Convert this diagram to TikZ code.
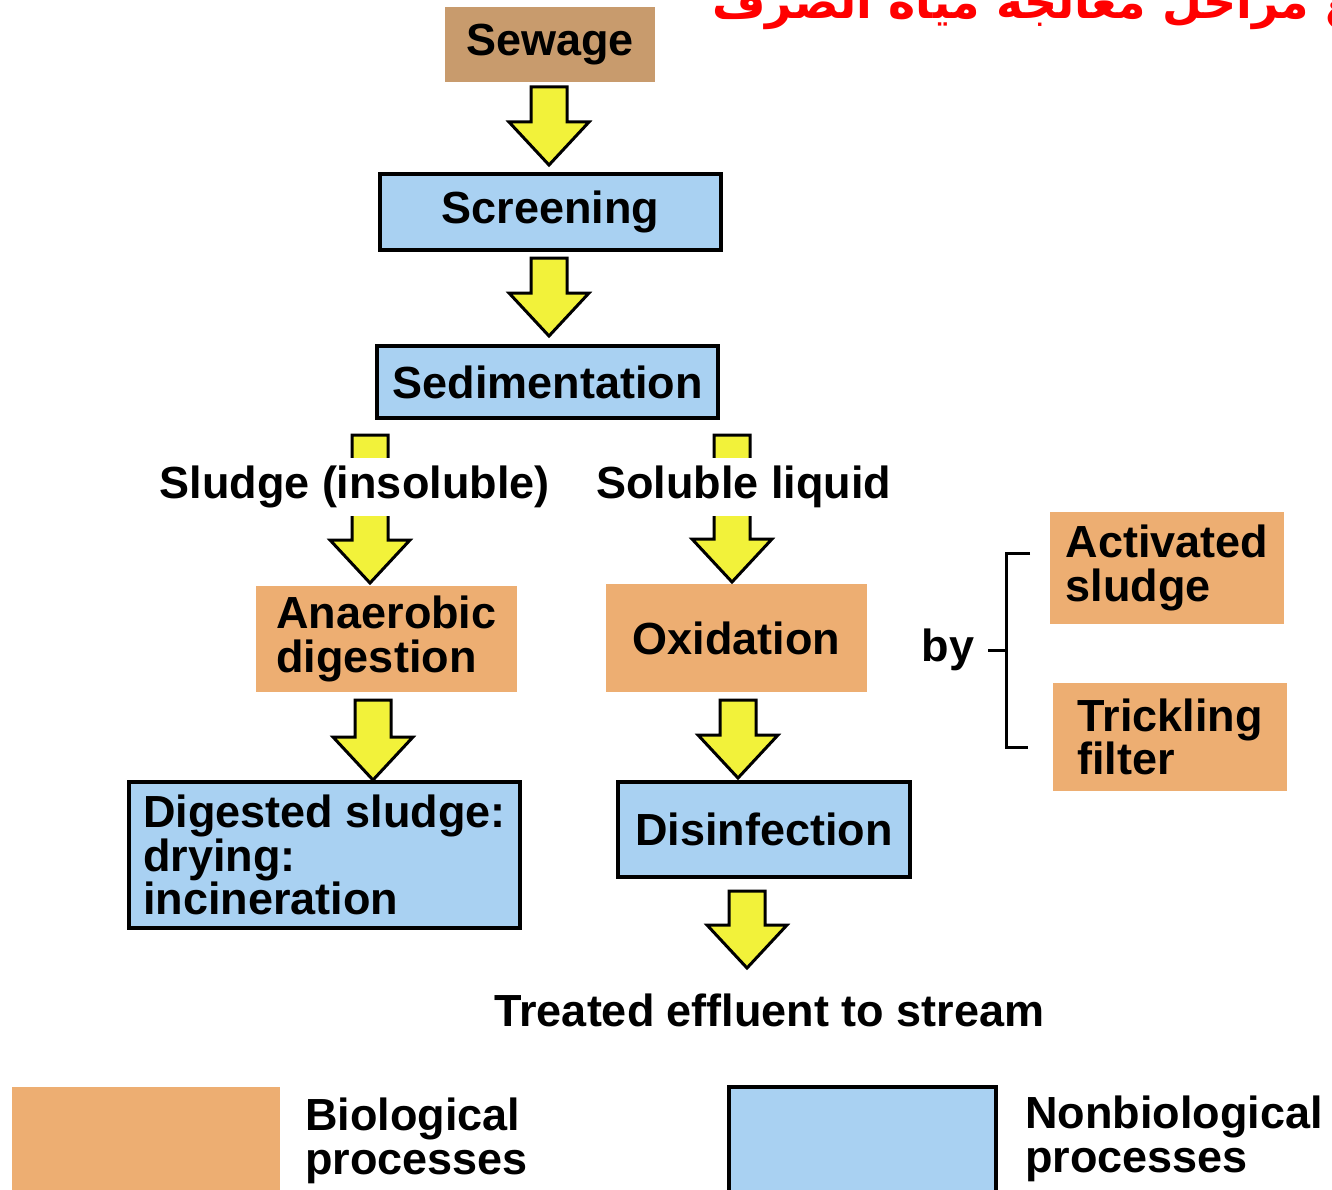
\documentclass[tikz,border=0pt]{standalone}
\usepackage{fontspec}
\setmainfont{Liberation Sans}
\newfontfamily\arabicfont[Script=Arabic]{DejaVu Sans}
\TeXXeTstate=1
\usetikzlibrary{calc}
\definecolor{sewC}{HTML}{C89B6D}
\definecolor{bioC}{HTML}{EDAE72}
\definecolor{nbC}{HTML}{A9D1F2}
\definecolor{arrY}{HTML}{F2F23A}
\newcommand\blockarrow[2]{%
  \path[yarr] let \p1=(#1), \p2=(#2) in
    (\x1-18pt,\y1) -- (\x1-18pt,\y2+43pt) -- (\x1-40pt,\y2+43pt) -- (\x1,\y2)
    -- (\x1+40pt,\y2+43pt) -- (\x1+18pt,\y2+43pt) -- (\x1+18pt,\y1) -- cycle;}
\tikzset{
  txt/.style={font=\bfseries\fontsize{45}{43.5}\selectfont, inner sep=0pt},
  sew/.style={txt, fill=sewC, draw=none},
  bio/.style={txt, fill=bioC, draw=none, align=left},
  nbio/.style={txt, fill=nbC, draw=black, line width=4pt, align=left},
  yarr/.style={fill=arrY, draw=black, line width=3pt, line join=miter},
  brk/.style={draw=black, line width=3pt},
}
\begin{document}
\begin{tikzpicture}[x=1pt,y=-1pt]
\useasboundingbox[fill=white] (0,0) rectangle (1332,1190);

% title (cut off at the top edge, as in the reference)
\node[font=\arabicfont\bfseries\fontsize{46}{50}\selectfont, text=red, anchor=base east, inner sep=0pt] (title) at (1440,19) {\beginR جميع مراحل معالجة مياه الصرف\endR};

% boxes
\node[sew, minimum width=210pt, minimum height=75pt] (sewage) at (550,44.5) {Sewage};
\node[nbio, minimum width=341pt, minimum height=76pt] (screening) at (550.5,212) {Screening};
\node[nbio, minimum width=341pt, minimum height=72pt] (sedim) at (547.5,382) {Sedimentation};
\node[bio, minimum width=261pt, minimum height=106pt] (anaer) at (386.5,639) {Anaerobic\\digestion};
\node[bio, minimum width=261pt, minimum height=108pt] (oxid) at (736.5,638) {Oxidation};
\node[bio, minimum width=234pt, minimum height=112pt] (actsl) at (1167,568) {Activated\\sludge};
\node[bio, minimum width=234pt, minimum height=108pt] (trick) at (1170,737) {Trickling\\filter};
\node[nbio, minimum width=391pt, minimum height=146pt] (digest) at (324.5,855) {Digested sludge:\\drying:\\incineration};
\node[nbio, minimum width=292pt, minimum height=95pt] (disinf) at (764,829.5) {Disinfection};

% arrow end points
\coordinate (a1s) at (549,87);  \coordinate (a1e) at (549,165);
\coordinate (a2s) at (549,258); \coordinate (a2e) at (549,336);
\coordinate (a3s) at (370,435); \coordinate (a3e) at (370,583);
\coordinate (a4s) at (732,435); \coordinate (a4e) at (732,582);
\coordinate (a5s) at (373,700); \coordinate (a5e) at (373,780);
\coordinate (a6s) at (738,700); \coordinate (a6e) at (738,778);
\coordinate (a7s) at (747,891); \coordinate (a7e) at (747,968);
\blockarrow{a1s}{a1e}
\blockarrow{a2s}{a2e}
\blockarrow{a3s}{a3e}
\blockarrow{a4s}{a4e}
\blockarrow{a5s}{a5e}
\blockarrow{a6s}{a6e}
\blockarrow{a7s}{a7e}

% split labels (covering the shafts)
\node[txt, fill=white, inner ysep=8pt] (sludge) at (354.5,487) {Sludge (insoluble)};
\node[txt, fill=white, inner ysep=8pt] (soluble) at (743.5,487) {Soluble liquid};

% by + bracket
\node[txt] (by) at (948,650) {by};
\coordinate (bt) at (1030,553);
\coordinate (bb) at (1028,747);
\coordinate (bm) at (1006,650);
\draw[brk] (bt) -- (1006,553) -- (1006,747) -- (bb);
\draw[brk] ($(by.east)+(14,0)$) -- (bm);

\node[txt] (treated) at (769.5,1010) {Treated effluent to stream};

% legend
\node[bio, minimum width=268pt, minimum height=140pt, anchor=north west] (legbio) at (12,1087) {};
\node[nbio, minimum width=267pt, minimum height=140pt, anchor=north west] (legnb) at (727,1085) {};
\node[txt, align=left, anchor=west] (legbiot) at (305,1141) {Biological\\processes};
\node[txt, align=left, anchor=west] (legnbt) at (1025,1139) {Nonbiological\\processes};
\end{tikzpicture}
\end{document}
